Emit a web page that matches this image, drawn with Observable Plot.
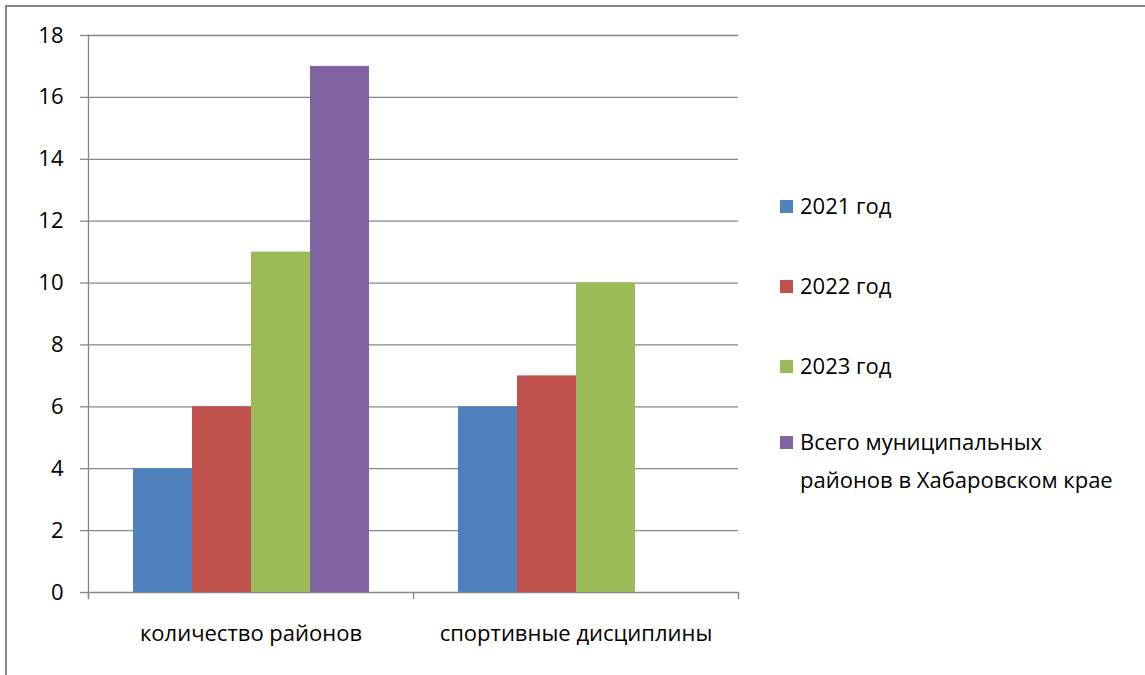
<!DOCTYPE html>
<html>
<head>
<meta charset="utf-8">
<script src="https://cdn.jsdelivr.net/npm/d3@7"></script>
<script src="https://cdn.jsdelivr.net/npm/@observablehq/plot@0.6"></script>
<style>
  html, body { margin: 0; padding: 0; background: #fff; overflow: hidden; width: 1145px; height: 675px; }
  #wrap { position: relative; width: 1145px; height: 675px; font-family: "Open Sans", sans-serif; }
  #border { position: absolute; left: 5px; top: 5px; width: 1300px; height: 900px; border: 2px solid #878787; box-sizing: border-box; }
  #chart { position: absolute; left: 0; top: 0; }
  #legend { position: absolute; left: 780px; top: 0; font-size: 22px; color: #000; }
  .item { position: absolute; left: 0; white-space: nowrap; line-height: 38px; }
  .sw { position: absolute; left: 0; width: 13px; height: 13px; }
  .lab { position: absolute; left: 20px; }
</style>
</head>
<body>
<div id="wrap">
  <div id="border"></div>
  <div id="chart"></div>
  <div id="legend"></div>
</div>
<script>
const categories = ["количество районов", "спортивные дисциплины"];
const series = ["2021 год", "2022 год", "2023 год", "Всего муниципальных районов в Хабаровском крае"];
const legendLines = [["2021 год"], ["2022 год"], ["2023 год"], ["Всего муниципальных", "районов в Хабаровском крае"]];
const colors = ["#4F81BD", "#C0504D", "#9BBB59", "#8064A2"];
const v2021 = [4, 6];
const v2022 = [6, 7];
const v2023 = [11, 10];
const vTotal = [17, null];
const yTicks = [0, 2, 4, 6, 8, 10, 12, 14, 16, 18];

const values = [v2021, v2022, v2023, vTotal];
const data = [];
categories.forEach((c, ci) => {
  series.forEach((s, si) => {
    const v = values[si][ci];
    if (v != null) data.push({category: c, series: s, value: v});
  });
});

const grid = "#868686";
const chart = Plot.plot({
  width: 1145,
  height: 675,
  marginLeft: 88,
  marginRight: 407,
  marginTop: 35,
  marginBottom: 83,
  style: {fontFamily: "'Open Sans', sans-serif", fontSize: "21px", color: "#000", background: "transparent"},
  fx: {domain: categories, padding: 0, label: null},
  x: {domain: series, paddingInner: 0, paddingOuter: 0.75, axis: null},
  y: {domain: [0, 18], label: null},
  color: {domain: series, range: colors},
  marks: [
    Plot.ruleY(yTicks, {stroke: grid, strokeWidth: 1.3}),
    Plot.barY(data, {fx: "category", x: "series", y: "value", fill: "series", inset: 0}),
    Plot.axisY(yTicks, {tickSize: 8, tickPadding: 17, stroke: grid, strokeWidth: 1.3, fill: "#000", fontSize: 22, label: null}),
    Plot.frame({anchor: "left", facetAnchor: "left", stroke: grid, strokeWidth: 1.3, insetBottom: -6}),
    Plot.frame({anchor: "left", stroke: grid, strokeWidth: 1.3, insetTop: 557, insetBottom: -6}),
    Plot.frame({anchor: "right", facetAnchor: "right", stroke: grid, strokeWidth: 1.3, insetTop: 557, insetBottom: -6}),
    Plot.axisFx({anchor: "bottom", tickSize: 0, tickPadding: 33, fill: "#000", fontSize: 22, label: null})
  ]
});
document.getElementById("chart").appendChild(chart);

const legend = document.getElementById("legend");
const tops = [186, 266, 346, 422];
legendLines.forEach((lines, i) => {
  const it = document.createElement("div");
  it.className = "item";
  it.style.top = tops[i] + "px";
  const sw = document.createElement("div");
  sw.className = "sw";
  sw.style.background = colors[i];
  sw.style.top = "14px";
  it.appendChild(sw);
  const lab = document.createElement("div");
  lab.className = "lab";
  lab.innerHTML = lines.join("<br>");
  it.appendChild(lab);
  legend.appendChild(it);
});
</script>
</body>
</html>
